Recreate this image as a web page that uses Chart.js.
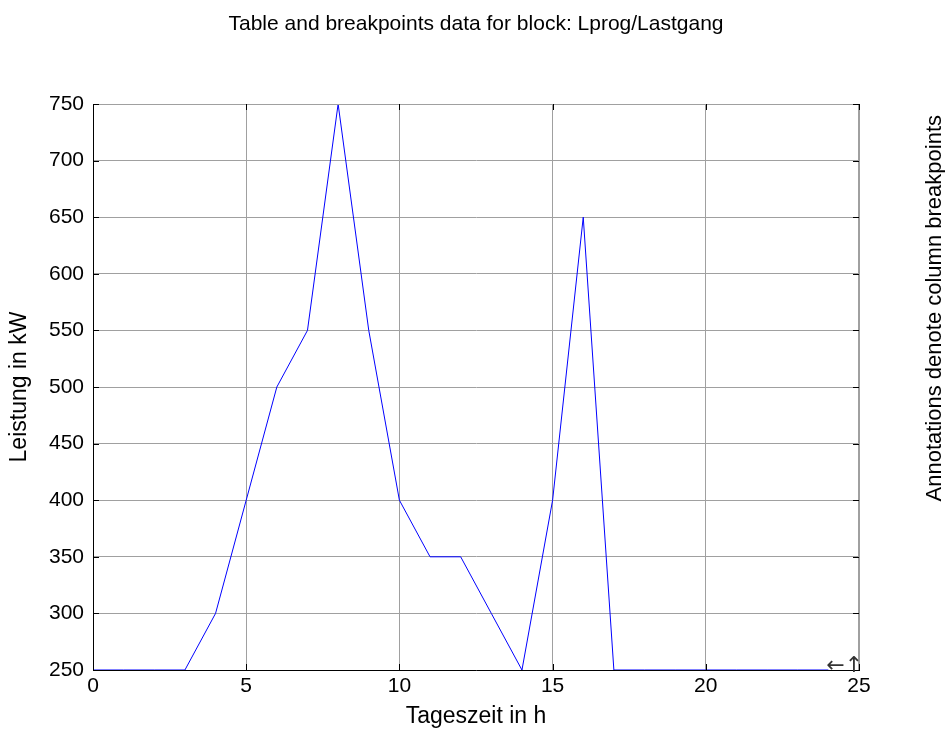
<!DOCTYPE html>
<html>
<head>
<meta charset="utf-8">
<script src="https://cdn.jsdelivr.net/npm/chart.js@4"></script>
<style>
  html, body { margin: 0; padding: 0; background: #fff; }
  #wrap { width: 945px; height: 731px; }
</style>
</head>
<body>
<div id="wrap"><canvas id="chart" width="945" height="731"></canvas></div>
<script>
// breakpoints (hours) and table values (kW)
const hours = [0, 1, 2, 3, 4, 5, 6, 7, 8, 9, 10, 11, 12, 13, 14, 15, 16, 17, 18, 19, 20, 21, 22, 23, 24];
const power = [250, 250, 250, 250, 300, 400, 500, 550, 750, 550, 400, 350, 350, 300, 250, 400, 650, 250, 250, 250, 250, 250, 250, 250, 250];
const xTicks = [0, 5, 10, 15, 20, 25];
const yTicks = [250, 300, 350, 400, 450, 500, 550, 600, 650, 700, 750];

const titleText = 'Table and breakpoints data for block: Lprog/Lastgang';
const xLabel = 'Tageszeit in h';
const yLabel = 'Leistung in kW';
const sideNote = 'Annotations denote column breakpoints';

const FONT = '"Liberation Sans", Arial, sans-serif';

// frame, inward ticks, labels and the end arrow, matlab style
const matlabDecor = {
  id: 'matlabDecor',
  afterDraw(chart) {
    const ctx = chart.ctx;
    const a = chart.chartArea;
    const xs = chart.scales.x, ys = chart.scales.y;
    ctx.save();

    // top and right edge
    ctx.strokeStyle = '#a0a0a0';
    ctx.lineWidth = 1;
    ctx.beginPath();
    ctx.moveTo(a.left, a.top + 0.5); ctx.lineTo(a.right, a.top + 0.5);
    ctx.moveTo(a.right - 0.5, a.top); ctx.lineTo(a.right - 0.5, a.bottom);
    ctx.stroke();

    // small inward ticks
    ctx.strokeStyle = '#000';
    ctx.beginPath();
    xTicks.forEach(v => {
      const px = Math.round(xs.getPixelForValue(v)) + 0.5;
      ctx.moveTo(px, a.bottom); ctx.lineTo(px, a.bottom - 6);
      ctx.moveTo(px, a.top); ctx.lineTo(px, a.top + 6);
    });
    yTicks.forEach(v => {
      const py = Math.round(ys.getPixelForValue(v)) + 0.5;
      ctx.moveTo(a.left, py); ctx.lineTo(a.left + 6, py);
      ctx.moveTo(a.right, py); ctx.lineTo(a.right - 6, py);
    });
    ctx.stroke();

    ctx.fillStyle = '#000';
    // title
    ctx.font = '21px ' + FONT;
    ctx.textAlign = 'center';
    ctx.textBaseline = 'middle';
    ctx.fillText(titleText, 476, 24);

    // axis labels
    ctx.font = '23px ' + FONT;
    ctx.fillText(xLabel, (a.left + a.right) / 2, 717);
    ctx.save();
    ctx.translate(20, (a.top + a.bottom) / 2);
    ctx.rotate(-Math.PI / 2);
    ctx.fillText(yLabel, 0, 0);
    ctx.restore();

    // side note, its end sits near the top
    ctx.save();
    ctx.font = '22px ' + FONT;
    ctx.textAlign = 'right';
    ctx.translate(935, 115);
    ctx.rotate(-Math.PI / 2);
    ctx.fillText(sideNote, 0, 0);
    ctx.restore();

    // breakpoint annotation at the last point
    const lx = xs.getPixelForValue(hours[hours.length - 1]);
    const ly = ys.getPixelForValue(power[power.length - 1]);
    ctx.font = '22px "DejaVu Sans", sans-serif';
    ctx.textAlign = 'left';
    ctx.textBaseline = 'middle';
    ctx.fillStyle = '#333';
    ctx.fillText('\u2190\u2191', lx - 2, ly - 4);

    ctx.restore();
  }
};

new Chart(document.getElementById('chart').getContext('2d'), {
  type: 'line',
  data: {
    datasets: [{
      data: hours.map((h, i) => ({ x: h, y: power[i] })),
      borderColor: '#0000ff',
      borderWidth: 1,
      pointRadius: 0,
      tension: 0,
      fill: false
    }]
  },
  options: {
    responsive: false,
    animation: false,
    layout: { padding: { left: 0, top: 104, right: 86, bottom: 0 } },
    plugins: {
      legend: { display: false },
      tooltip: { enabled: false },
      title: { display: false }
    },
    scales: {
      x: {
        type: 'linear',
        min: 0, max: 25,
        afterFit(scale) { scale.height = 61; },
        afterBuildTicks(scale) { scale.ticks = xTicks.map(v => ({ value: v })); },
        grid: { color: '#a0a0a0', drawTicks: false },
        border: { color: '#000', width: 1 },
        ticks: { color: '#000', font: { family: FONT, size: 21 }, padding: 4, maxRotation: 0 }
      },
      y: {
        type: 'linear',
        min: 250, max: 750,
        afterFit(scale) { scale.width = 93; },
        afterBuildTicks(scale) { scale.ticks = yTicks.map(v => ({ value: v })); },
        grid: { color: '#a0a0a0', drawTicks: false },
        border: { color: '#000', width: 1 },
        ticks: { color: '#000', font: { family: FONT, size: 21 }, padding: 9 }
      }
    }
  },
  plugins: [matlabDecor]
});
</script>
</body>
</html>
